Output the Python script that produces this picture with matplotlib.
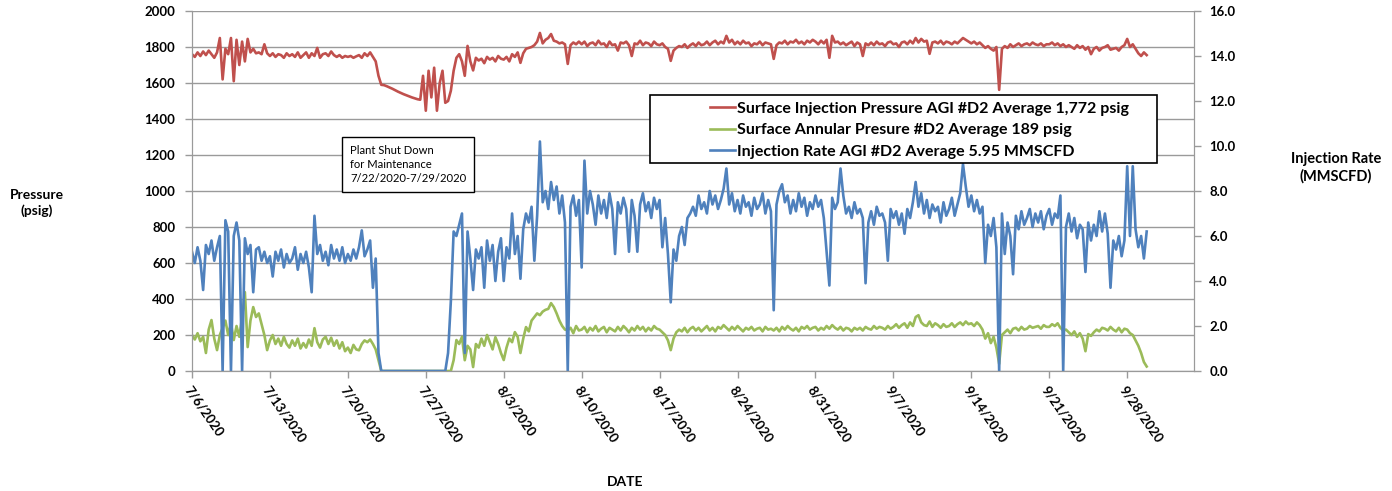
import pandas as pd
import matplotlib.pyplot as plt
from matplotlib.patches import Rectangle

# Readings every 6 hours starting 7/6/2020 00:00 (4 values per day)
surface_injection_psig = [
    1760, 1745, 1770, 1750,  1775, 1755, 1780, 1760,  1740, 1770, 1850, 1620,  1790, 1760, 1850, 1610,
    1840, 1700, 1830, 1720,  1845, 1770, 1790, 1765,  1770, 1760, 1815, 1765,  1750, 1765, 1745, 1760,
    1755, 1740, 1765, 1750,  1760, 1745, 1770, 1740,  1755, 1770, 1740, 1765,  1750, 1795, 1740, 1760,
    1765, 1750, 1775, 1755,  1745, 1755, 1740, 1750,  1745, 1750, 1740, 1748,  1755, 1740, 1765, 1750,
    1770, 1745, 1720, 1640,  1590, 1588, 1582, 1575,  1568, 1560, 1552, 1545,  1538, 1532, 1526, 1520,
    1515, 1510, 1507, 1640,  1446, 1668, 1520, 1685,  1446, 1600, 1668, 1490,  1500, 1557, 1668, 1740,
    1760, 1720, 1640, 1806,  1720, 1670, 1740, 1725,  1735, 1710, 1745, 1730,  1740, 1720, 1750, 1735,
    1730, 1745, 1720, 1760,  1745, 1770, 1712, 1765,  1790, 1795, 1800, 1810,  1830, 1878, 1820, 1840,
    1850, 1872, 1835, 1830,  1820, 1825, 1815, 1706,  1810, 1825, 1815, 1830,  1815, 1830, 1805, 1820,
    1825, 1810, 1835, 1815,  1820, 1800, 1830, 1810,  1815, 1780, 1825, 1820,  1830, 1810, 1750, 1820,
    1815, 1835, 1810, 1825,  1820, 1805, 1830, 1815,  1810, 1820, 1800, 1790,  1723, 1780, 1795, 1805,
    1800, 1815, 1795, 1810,  1820, 1805, 1825, 1810,  1815, 1830, 1810, 1825,  1835, 1815, 1830, 1820,
    1862, 1825, 1840, 1815,  1830, 1815, 1835, 1820,  1825, 1805, 1820, 1815,  1830, 1810, 1825, 1820,
    1815, 1734, 1810, 1825,  1820, 1835, 1815, 1830,  1825, 1840, 1820, 1830,  1815, 1835, 1825, 1840,
    1830, 1815, 1835, 1820,  1840, 1740, 1862, 1825,  1830, 1815, 1825, 1810,  1820, 1830, 1805, 1825,
    1815, 1750, 1820, 1810,  1825, 1810, 1830, 1815,  1820, 1805, 1825, 1830,  1815, 1820, 1800, 1825,
    1830, 1815, 1835, 1820,  1850, 1825, 1845, 1830,  1835, 1762, 1825, 1830,  1820, 1835, 1815, 1830,
    1825, 1815, 1830, 1820,  1835, 1850, 1840, 1830,  1820, 1830, 1815, 1825,  1810, 1795, 1805, 1790,
    1780, 1800, 1562, 1790,  1805, 1795, 1815, 1800,  1810, 1820, 1805, 1815,  1820, 1810, 1825, 1815,
    1810, 1820, 1805, 1815,  1815, 1825, 1810, 1820,  1805, 1815, 1800, 1810,  1800, 1790, 1810, 1795,
    1805, 1785, 1800, 1760,  1790, 1800, 1780, 1795,  1800, 1810, 1785, 1790,  1795, 1780, 1800, 1810,
    1845, 1800, 1815, 1790,  1765, 1750, 1770, 1755,
]

annular_psig = [
    200, 175, 210, 165,  190, 100, 230, 283,  180, 116, 200, 240,  280, 200, 265, 172,
    250, 190, 300, 438,  133, 280, 355, 300,  320, 260, 200, 116,  170, 200, 150, 180,
    140, 190, 150, 130,  170, 140, 180, 125,  155, 130, 175, 140,  238, 160, 130, 175,
    190, 150, 185, 140,  170, 125, 160, 110,  130, 100, 145, 120,  115, 150, 170, 160,
    175, 150, 120, 60,   0, 0, 0, 0,  0, 0, 0, 0,  0, 0, 0, 0,
    0, 0, 0, 0,  0, 0, 0, 0,  0, 0, 0, 0,  0, 0, 60, 172,
    150, 190, 60, 140,  120, 22, 150, 130,  180, 140, 200, 160,  120, 188, 150, 100,
    61, 130, 180, 160,  216, 190, 100, 180,  244, 220, 280, 300,  320, 310, 330, 340,
    345, 377, 355, 320,  280, 250, 230, 227,  240, 210, 250, 225,  230, 245, 215, 240,
    225, 250, 220, 235,  245, 215, 240, 230,  220, 245, 225, 250,  235, 215, 240, 225,
    250, 230, 245, 220,  240, 225, 250, 235,  230, 215, 200, 170,  116, 180, 215, 230,
    220, 240, 215, 235,  245, 225, 240, 220,  235, 250, 225, 240,  220, 245, 235, 255,
    240, 225, 245, 230,  250, 235, 220, 240,  230, 245, 225, 235,  240, 220, 245, 230,
    235, 225, 240, 220,  245, 230, 250, 235,  225, 240, 220, 245,  235, 250, 230, 240,
    245, 225, 240, 230,  250, 235, 255, 240,  230, 245, 225, 240,  235, 220, 240, 230,
    240, 225, 245, 235,  230, 250, 235, 245,  240, 230, 250, 235,  245, 260, 240, 255,
    265, 240, 270, 250,  300, 310, 270, 255,  250, 275, 245, 265,  255, 240, 260, 245,
    250, 265, 245, 260,  270, 255, 275, 260,  265, 250, 270, 255,  230, 180, 210, 155,
    190, 130, 40, 200,  215, 230, 210, 235,  240, 225, 245, 230,  235, 250, 240, 245,
    250, 235, 255, 245,  245, 260, 250, 265,  240, 225, 230, 215,  200, 220, 190, 210,
    180, 110, 205, 195,  215, 230, 220, 240,  235, 225, 245, 230,  220, 240, 215, 235,
    230, 210, 200, 170,  140, 100, 50, 25,
]

injection_rate_mmscfd = [
    5.3, 4.8, 5.5, 4.9,  3.6, 5.6, 5.2, 5.8,  4.9, 5.5, 6.0, 0.0,  6.7, 6.2, 0.0, 6.0,
    6.6, 5.8, 0.0, 5.9,  5.2, 5.6, 3.5, 5.4,  5.5, 4.9, 5.3, 4.8,  5.1, 4.2, 5.3, 4.9,
    5.4, 4.6, 5.2, 4.8,  5.0, 5.5, 4.5, 5.2,  4.8, 5.3, 4.6, 3.5,  6.9, 5.2, 5.6, 4.9,
    5.3, 4.7, 5.6, 5.0,  5.4, 4.9, 5.5, 4.8,  5.2, 4.9, 5.4, 5.0,  5.5, 6.25, 5.1, 5.4,
    5.8, 3.7, 5.0, 0.8,  0, 0, 0, 0,  0, 0, 0, 0,  0, 0, 0, 0,
    0, 0, 0, 0,  0, 0, 0, 0,  0, 0, 0, 0,  0.8, 3.1, 6.2, 6.0,
    6.5, 7.0, 0.8, 6.2,  5.0, 3.6, 5.4, 5.0,  5.5, 3.7, 5.8, 4.9,  5.6, 4.0, 5.3, 5.9,
    4.0, 5.5, 5.0, 7.0,  5.2, 6.0, 4.1, 6.3,  7.0, 6.6, 7.3, 4.9,  6.9, 10.2, 7.5, 8.0,
    7.2, 8.4, 7.6, 8.2,  7.0, 7.8, 6.6, 0.0,  7.3, 7.8, 6.9, 7.6,  4.6, 9.35, 7.0, 8.0,
    7.4, 6.5, 7.8, 7.0,  7.6, 6.8, 7.9, 7.2,  5.2, 7.5, 7.0, 7.7,  7.2, 5.3, 7.6, 6.9,
    5.3, 7.4, 7.9, 7.1,  7.5, 6.8, 7.7, 7.2,  7.6, 5.5, 6.8, 5.2,  3.05, 5.4, 4.9, 6.0,
    6.4, 5.6, 6.8, 7.0,  7.3, 6.9, 7.8, 7.2,  7.5, 7.0, 8.0, 7.4,  7.8, 7.2, 7.6, 8.1,
    9.0, 7.4, 7.9, 7.1,  7.6, 7.0, 7.8, 7.3,  7.5, 6.9, 7.7, 7.2,  7.4, 7.9, 7.0, 7.6,
    7.1, 2.7, 7.4, 8.0,  8.3, 7.5, 7.8, 7.0,  7.6, 7.1, 7.9, 7.3,  7.7, 6.9, 7.5, 7.2,
    7.8, 7.3, 7.6, 6.8,  5.3, 3.8, 7.7, 7.2,  7.5, 9.0, 7.8, 7.0,  7.3, 6.8, 7.5, 7.0,
    7.2, 6.8, 3.9, 6.6,  7.1, 6.5, 7.3, 6.9,  7.0, 6.6, 4.9, 7.2,  6.8, 7.1, 6.5, 7.0,
    6.1, 7.2, 6.8, 7.5,  8.4, 7.3, 7.9, 7.0,  7.6, 6.8, 7.4, 7.1,  7.3, 6.6, 7.5, 6.9,
    7.2, 7.7, 6.9, 7.4,  7.9, 9.2, 8.2, 7.3,  7.8, 7.1, 7.6, 7.0,  7.3, 4.8, 6.5, 6.0,
    6.8, 5.5, 0.0, 7.0,  5.2, 6.6, 6.0, 4.3,  6.9, 6.3, 7.1, 6.5,  6.8, 7.2, 6.4, 7.0,
    6.6, 7.1, 6.3, 6.9,  7.2, 6.5, 7.0, 6.8,  7.8, 0.0, 6.4, 7.0,  6.2, 6.8, 5.9, 6.5,
    6.3, 4.4, 6.6, 5.8,  6.5, 6.0, 7.1, 6.2,  7.0, 6.1, 3.7, 5.8,  5.4, 6.0, 5.1, 5.8,
    9.1, 6.0, 9.1, 6.3,  5.5, 6.0, 5.0, 6.2,
]

series_labels = [
    "Surface Injection Pressure AGI #D2 Average 1,772 psig",
    "Surface Annular Presure #D2 Average 189 psig",
    "Injection Rate AGI #D2 Average 5.95 MMSCFD",
]
tick_dates = pd.date_range("2020-07-06", "2020-09-28", freq="7D")

times = pd.date_range("2020-07-06", periods=len(surface_injection_psig), freq="6h")

RED = "#C0504D"
GREEN = "#9BBB59"
BLUE = "#4F81BD"
GRID = "#9a9a9a"

plt.rcParams["font.family"] = ["Lato", "DejaVu Sans"]

fig = plt.figure(figsize=(13.92, 4.91), dpi=100)
ax = fig.add_axes([192 / 1392, 1 - 371 / 491, (1194 - 192) / 1392, 360 / 491])
ax2 = ax.twinx()

l1, = ax.plot(times, surface_injection_psig, color=RED, lw=1.9)
l2, = ax.plot(times, annular_psig, color=GREEN, lw=1.9)
l3, = ax2.plot(times, injection_rate_mmscfd, color=BLUE, lw=1.9)

ax.set_xlim(pd.Timestamp("2020-07-06"), pd.Timestamp("2020-10-04"))
ax.set_ylim(0, 2000)
ax.set_yticks(range(0, 2001, 200))
ax2.set_ylim(0, 16)
ax2.set_yticks(range(0, 17, 2))
ax2.set_yticklabels([f"{v:.1f}" for v in range(0, 17, 2)])

ax.set_xticks(tick_dates)
ax.set_xticklabels([f"{d.month}/{d.day}/{d.year}" for d in tick_dates],
                   rotation=-55, ha="left", va="top", rotation_mode="anchor")

ax.grid(axis="y", color=GRID, lw=1)
ax.set_axisbelow(True)
for a in (ax, ax2):
    a.spines["top"].set_visible(False)
    for s in ("left", "right", "bottom"):
        a.spines[s].set_color(GRID)
    a.tick_params(colors=GRID, length=5, width=1)
    for lab in a.get_yticklabels() + a.get_xticklabels():
        lab.set_color("black")
        lab.set_fontweight("bold")
        lab.set_fontsize(9.5)
ax.tick_params(axis="y", pad=7)
ax2.tick_params(axis="y", pad=6)
ax.tick_params(axis="x", pad=4)

fig.text(37 / 1392, 1 - 203 / 491, "Pressure\n(psig)", ha="center", va="center",
         fontsize=10, fontweight="bold", linespacing=1.4)
fig.text(1336 / 1392, 1 - 168 / 491, "Injection Rate\n(MMSCFD)", ha="center", va="center",
         fontsize=10.5, fontweight="bold", linespacing=1.3)
fig.text(625 / 1392, 1 - 482 / 491, "DATE", ha="center", va="center",
         fontsize=10, fontweight="bold")

# legend box with extra room on the left, like the original
x0, x1 = (650 - 192) / 1002, (1157 - 192) / 1002
y0, y1 = (371 - 163) / 360, (371 - 95) / 360
ax2.add_patch(Rectangle((x0, y0), x1 - x0, y1 - y0, transform=ax2.transAxes,
                        facecolor="white", edgecolor="black", lw=1.2, zorder=5))
leg = ax2.legend([l1, l2, l3], series_labels, loc="upper left", frameon=False,
                 bbox_to_anchor=((697 - 192) / 1002, (371 - 89) / 360),
                 prop={"weight": "bold", "size": 11.5}, handlelength=1.6,
                 handletextpad=0.1, labelspacing=0.45, borderpad=0.3)
leg.set_zorder(6)

ax2.text((350 - 192) / 1002, (371 - 145) / 360,
         "Plant Shut Down\nfor Maintenance\n7/22/2020-7/29/2020",
         transform=ax2.transAxes, ha="left", va="top", fontsize=8.1, linespacing=1.35,
         bbox=dict(boxstyle="square,pad=0.7", facecolor="white", edgecolor="black", lw=1),
         zorder=6)

fig.savefig("out.png", dpi=100)
